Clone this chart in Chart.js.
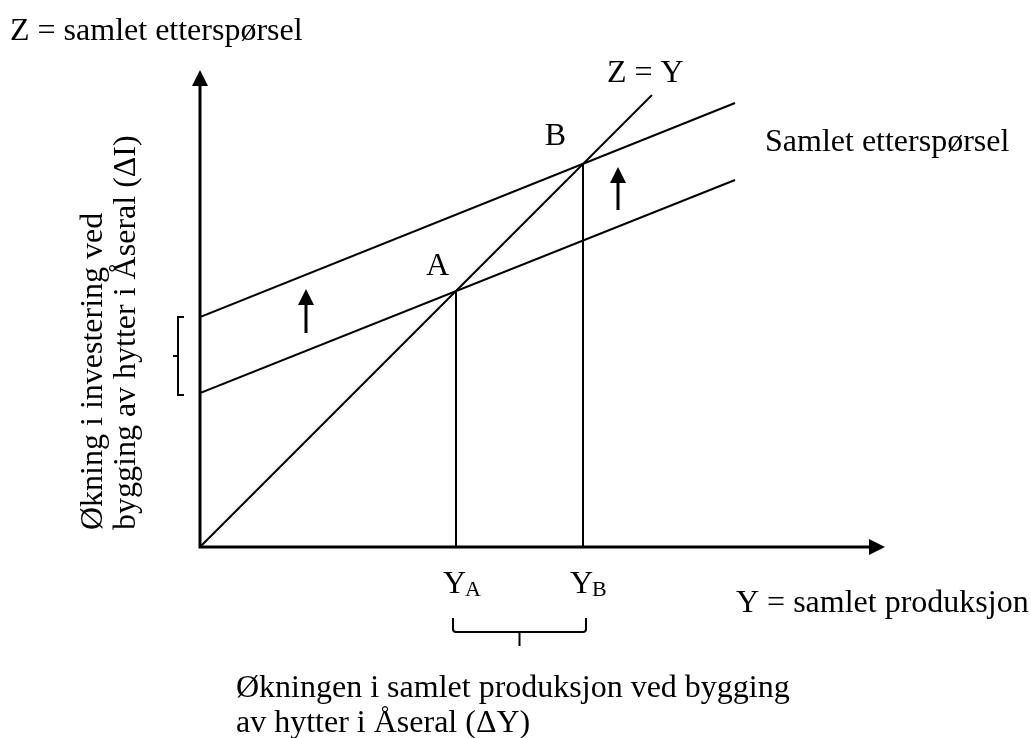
<!DOCTYPE html>
<html>
<head>
<meta charset="utf-8">
<script src="https://cdn.jsdelivr.net/npm/chart.js@4/dist/chart.umd.min.js"></script>
<style>
html,body{margin:0;padding:0;background:#fff;}
#wrap{width:1031px;height:738px;position:relative;}
</style>
</head>
<body>
<div id="wrap"><canvas id="c"></canvas></div>
<script>
// Axis extents (abstract units)
const xMax = 685;
const yMax = 477;
// Z = Y (45-degree line)
const zyX = [0, 452];
const zyY = [0, 452];
// Aggregate demand before (lower) and after (upper) the investment increase
const adLowX = [0, 535];
const adLowY = [154, 367];
const adHighX = [0, 535];
const adHighY = [230, 444];
// Equilibria
const eqNames = ['A', 'B'];
const eqX = [256, 383];
const eqY = [256, 383];
// Shift arrows
const shiftX = [106, 418];
const shiftFrom = [214, 337];
const shiftTo = [258, 380];

const pts = (xs, ys) => xs.map((x, i) => ({x: x, y: ys[i]}));
const lineDs = (data) => ({data: data, borderColor: '#000', borderWidth: 2, pointRadius: 0, showLine: true, fill: false});

const FONT = '32px "Liberation Serif", "Times New Roman", serif';
const SUB = '22px "Liberation Serif", "Times New Roman", serif';

const overlay = {
  id: 'overlay',
  afterDatasetsDraw(chart) {
    const ctx = chart.ctx;
    const sx = chart.scales.x, sy = chart.scales.y;
    const X = v => sx.getPixelForValue(v), Y = v => sy.getPixelForValue(v);
    const x0 = X(0), y0 = Y(0);
    ctx.save();
    ctx.fillStyle = '#000';
    ctx.strokeStyle = '#000';
    // axes
    ctx.lineWidth = 3;
    ctx.beginPath();
    ctx.moveTo(x0, y0 + 1.5); ctx.lineTo(x0, Y(yMax) + 14);
    ctx.moveTo(x0 - 1.5, y0); ctx.lineTo(X(xMax) - 14, y0);
    ctx.stroke();
    // arrow heads
    const tipUp = (x, ty, w, h) => { ctx.beginPath(); ctx.moveTo(x, ty); ctx.lineTo(x - w/2, ty + h); ctx.lineTo(x + w/2, ty + h); ctx.closePath(); ctx.fill(); };
    tipUp(x0, Y(yMax), 16, 16);
    ctx.beginPath();
    ctx.moveTo(X(xMax), y0); ctx.lineTo(X(xMax) - 16, y0 - 8); ctx.lineTo(X(xMax) - 16, y0 + 8); ctx.closePath(); ctx.fill();
    // shift arrows
    for (let i = 0; i < shiftX.length; i++) {
      const x = X(shiftX[i]);
      ctx.lineWidth = 3;
      ctx.beginPath(); ctx.moveTo(x, Y(shiftFrom[i])); ctx.lineTo(x, Y(shiftTo[i]) + 12); ctx.stroke();
      tipUp(x, Y(shiftTo[i]), 16, 16);
    }
    // left bracket (ΔI)
    ctx.lineWidth = 2;
    const bx = x0 - 22;
    const bTop = Y(adHighY[0]), bBot = Y(adLowY[0]) + 2, bMid = (bTop + bBot) / 2;
    ctx.beginPath();
    ctx.moveTo(bx + 6, bTop); ctx.lineTo(bx, bTop); ctx.lineTo(bx, bBot); ctx.lineTo(bx + 6, bBot);
    ctx.moveTo(bx, bMid); ctx.lineTo(bx - 5, bMid);
    ctx.stroke();
    // bottom bracket (ΔY)
    const l = X(eqX[0]) - 3, r = X(eqX[1]) + 3, top = y0 + 71, bot = y0 + 85;
    ctx.beginPath();
    ctx.moveTo(l, top); ctx.lineTo(l, bot - 3); ctx.quadraticCurveTo(l, bot, l + 3, bot);
    ctx.lineTo(r - 3, bot); ctx.quadraticCurveTo(r, bot, r, bot - 3); ctx.lineTo(r, top);
    ctx.moveTo((l + r) / 2, bot); ctx.lineTo((l + r) / 2, bot + 14);
    ctx.stroke();
    // texts
    ctx.font = FONT;
    ctx.textBaseline = 'alphabetic';
    ctx.textAlign = 'left';
    ctx.fillText('Z = samlet etterspørsel', 10, 40);
    ctx.fillText('Z = Y', 607, 82);
    ctx.fillText('Samlet etterspørsel', 765, 151);
    ctx.fillText('Y = samlet produksjon', 736, 612);
    ctx.fillText('Økningen i samlet produksjon ved bygging', 236, 697);
    ctx.fillText('av hytter i Åseral (ΔY)', 236, 732);
    ctx.textAlign = 'right';
    ctx.fillText(eqNames[0], X(eqX[0]) - 7, Y(eqY[0]) - 16);
    ctx.fillText(eqNames[1], X(eqX[1]) - 17, Y(eqY[1]) - 19);
    // Y_A, Y_B
    for (let i = 0; i < eqX.length; i++) {
      const xl = X(eqX[i]) - 13;
      ctx.textAlign = 'left';
      ctx.font = FONT;
      ctx.fillText('Y', xl, y0 + 46);
      const w = ctx.measureText('Y').width;
      ctx.font = SUB;
      ctx.fillText(eqNames[i], xl + w - 1, y0 + 49);
    }
    // rotated y text
    ctx.font = FONT;
    ctx.textAlign = 'left';
    ctx.save();
    ctx.translate(102, 530); ctx.rotate(-Math.PI / 2);
    ctx.fillText('Økning i investering ved', 0, 0);
    ctx.restore();
    ctx.save();
    ctx.translate(135, 530); ctx.rotate(-Math.PI / 2);
    ctx.fillText('bygging av hytter i Åseral (ΔI)', 0, 0);
    ctx.restore();
    ctx.restore();
  }
};

new Chart(document.getElementById('c'), {
  type: 'scatter',
  data: {
    datasets: [
      lineDs(pts(zyX, zyY)),
      lineDs(pts(adLowX, adLowY)),
      lineDs(pts(adHighX, adHighY)),
      lineDs([{x: eqX[0], y: 0}, {x: eqX[0], y: eqY[0]}]),
      lineDs([{x: eqX[1], y: 0}, {x: eqX[1], y: eqY[1]}])
    ]
  },
  options: {
    responsive: true,
    maintainAspectRatio: false,
    animation: false,
    layout: {padding: {left: 200, right: 146, top: 70, bottom: 191}},
    plugins: {legend: {display: false}, tooltip: {enabled: false}},
    scales: {
      x: {type: 'linear', min: 0, max: xMax, display: false},
      y: {type: 'linear', min: 0, max: yMax, display: false}
    }
  },
  plugins: [overlay]
});
</script>
</body>
</html>
